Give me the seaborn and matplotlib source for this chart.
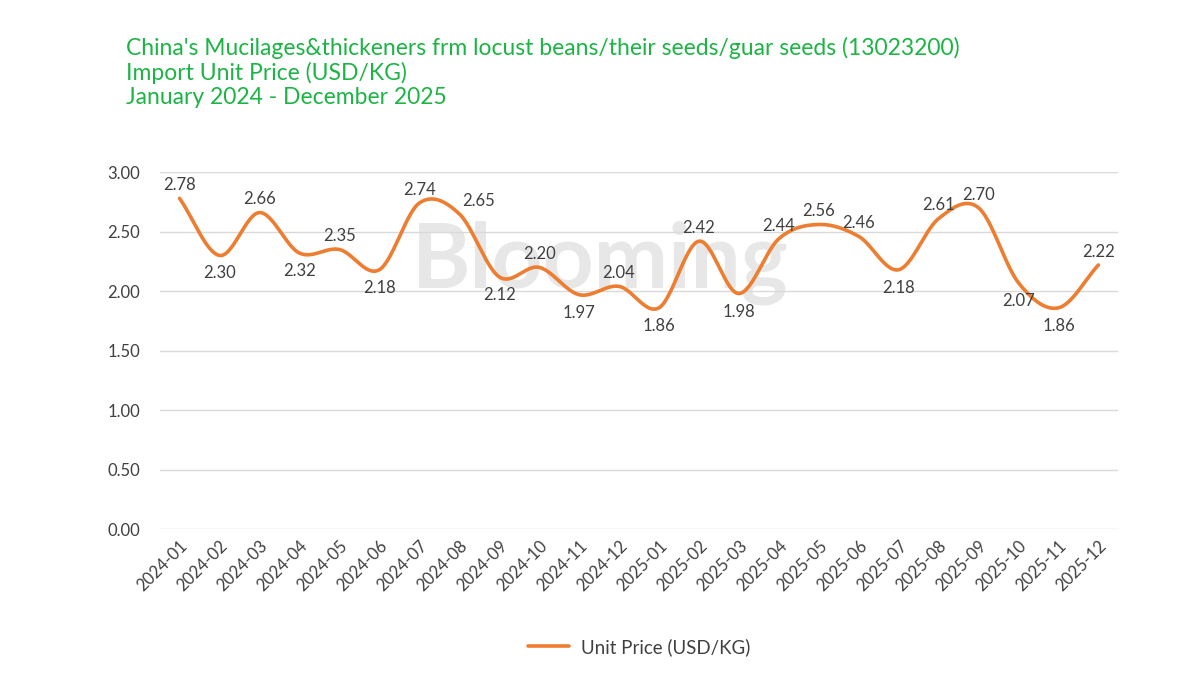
import numpy as np
import pandas as pd
import matplotlib
matplotlib.use("Agg")
import matplotlib.pyplot as plt
import seaborn as sns

# Data
months = ["2024-01", "2024-02", "2024-03", "2024-04", "2024-05", "2024-06",
          "2024-07", "2024-08", "2024-09", "2024-10", "2024-11", "2024-12",
          "2025-01", "2025-02", "2025-03", "2025-04", "2025-05", "2025-06",
          "2025-07", "2025-08", "2025-09", "2025-10", "2025-11", "2025-12"]
unit_price = [2.78, 2.30, 2.66, 2.32, 2.35, 2.18, 2.74, 2.65, 2.12, 2.20, 1.97, 2.04,
              1.86, 2.42, 1.98, 2.44, 2.56, 2.46, 2.18, 2.61, 2.70, 2.07, 1.86, 2.22]
# label above (1) or below (-1) the point
label_side = [1, -1, 1, -1, 1, -1, 1, 1, -1, 1, -1, 1,
              -1, 1, -1, 1, 1, 1, -1, 1, 1, -1, -1, 1]

title = ("China's Mucilages&thickeners frm locust beans/their seeds/guar seeds (13023200)\n"
         "Import Unit Price (USD/KG)\n"
         "January 2024 - December 2025")
series_name = "Unit Price (USD/KG)"

orange = "#ED7D31"
green = "#1DB446"
text_col = "#404040"


# Catmull-Rom smoothing, like the spreadsheet "smoothed line"
def smooth(x, y, n=30):
    x = np.asarray(x, float)
    y = np.asarray(y, float)
    px = np.concatenate([[2 * x[0] - x[1]], x, [2 * x[-1] - x[-2]]])
    py = np.concatenate([[2 * y[0] - y[1]], y, [2 * y[-1] - y[-2]]])
    xs, ys = [], []
    t = np.linspace(0, 1, n, endpoint=False)
    for i in range(1, len(px) - 2):
        for p, out in ((px, xs), (py, ys)):
            p0, p1, p2, p3 = p[i - 1], p[i], p[i + 1], p[i + 2]
            out.append(0.5 * ((2 * p1) + (-p0 + p2) * t
                              + (2 * p0 - 5 * p1 + 4 * p2 - p3) * t ** 2
                              + (-p0 + 3 * p1 - 3 * p2 + p3) * t ** 3))
    xs = np.concatenate(xs + [[x[-1]]])
    ys = np.concatenate(ys + [[y[-1]]])
    return xs, ys


sns.set_theme(style="white")
plt.rcParams["font.family"] = ["Lato", "DejaVu Sans"]

fig = plt.figure(figsize=(12, 6.75), dpi=100)
ax = fig.add_axes([0.133, 0.216, 0.799, 0.529])

pos = np.arange(len(months))
sx, sy = smooth(pos, unit_price)
curve = pd.DataFrame({"x": sx, "y": sy, "series": series_name})
sns.lineplot(data=curve, x="x", y="y", hue="series", palette=[orange],
             sort=False, linewidth=2.6, ax=ax, legend=True)

for i, (v, s) in enumerate(zip(unit_price, label_side)):
    dx = 14 if i == 7 else 0  # 2024-08 label sits right of its point
    ax.annotate(f"{v:.2f}", (pos[i], v), xytext=(dx, 9.5 if s > 0 else -13),
                textcoords="offset points", ha="center", va="center",
                fontsize=12, color=text_col)

ax.set_xlim(-0.5, len(months) - 0.5)
ax.set_ylim(0, 3.0)
ax.set_yticks(np.arange(0, 3.01, 0.5))
ax.set_yticklabels([f"{t:.2f}" for t in np.arange(0, 3.01, 0.5)])
ax.set_xticks(pos)
ax.set_xticklabels(months, rotation=45, ha="right", rotation_mode="anchor")
ax.tick_params(axis="both", labelsize=12, colors=text_col, length=0)
ax.tick_params(axis="y", pad=14)
ax.tick_params(axis="x", pad=6)
ax.grid(axis="y", color="#D9D9D9", linewidth=1)
ax.set_xlabel("")
ax.set_ylabel("")
sns.despine(ax=ax, left=True, bottom=True)

# watermark
ax.text(0.46, 0.745, "Blooming", transform=ax.transAxes, ha="center", va="center",
        fontsize=64, fontweight="bold", color="#B0B0B0", alpha=0.3, zorder=0)

leg = ax.legend(loc="center", bbox_to_anchor=(0.5, -0.33), frameon=False,
                fontsize=13.5, handlelength=2.2, handletextpad=0.6)
for t in leg.get_texts():
    t.set_color(text_col)

fig.text(0.105, 0.946, title, ha="left", va="top", fontsize=16.5, color=green,
         linespacing=1.17)

fig.savefig("out.png", dpi=100, facecolor="white")
